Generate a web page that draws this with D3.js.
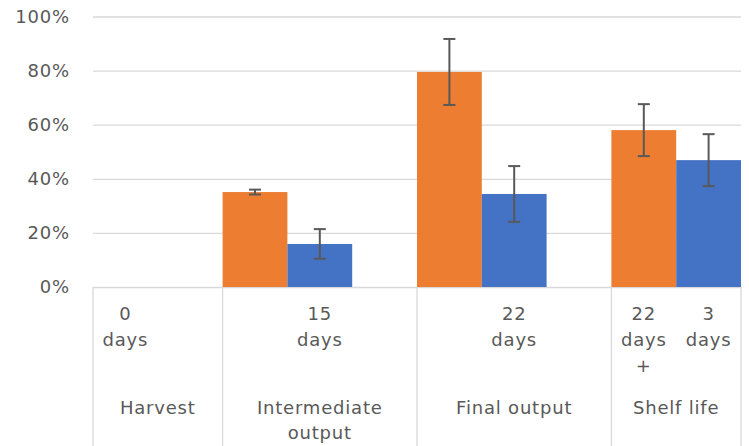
<!DOCTYPE html>
<style>
  html, body { margin:0; background:#fff; }
  text { font-family: "DejaVu Sans", sans-serif; fill:#595959; letter-spacing:0.8px; }
</style>
<svg width="749" height="446"></svg>
<script src="https://d3js.org/d3.v7.min.js"></script>
<script>

var groups = ["Harvest", "Intermediate output", "Final output", "Shelf life"],
    groupSlots = [2, 3, 3, 2],
    slotLabels = ["0 days", "", "", "15 days", "", "", "22 days", "", "22 days +", "3 days"],
    orangeValues = [null, 35.1, 79.5, 58.0],
    orangeErrors = [null, 0.9, 12.2, 9.6],
    blueValues = [null, 15.9, 34.4, 46.9],
    blueErrors = [null, 5.5, 10.3, 9.6],
    yTicks = [0, 20, 40, 60, 80, 100];

var svg = d3.select("svg"),
    plotLeft = 93, plotRight = 741, plotTop = 16.5, plotBottom = 287;

var x = d3.scaleBand().domain(d3.range(d3.sum(groupSlots))).range([plotLeft, plotRight]).padding(0),
    y = d3.scaleLinear().domain([0, 100]).range([plotBottom, plotTop]);

var starts = groupSlots.map(function(d, i) { return d3.sum(groupSlots.slice(0, i)); });

// grid + y labels
var yAxis = svg.append("g")
    .attr("transform", "translate(" + plotLeft + ",0)")
    .call(d3.axisLeft(y).tickValues(yTicks).tickSize(-(plotRight - plotLeft)).tickPadding(23)
      .tickFormat(function(d) { return d + "%"; }));
yAxis.select(".domain").remove();
yAxis.selectAll(".tick line").attr("stroke", "#d9d9d9").attr("stroke-width", 1.3);
yAxis.selectAll(".tick text").style("font-size", "18px").attr("fill", "#595959")
    .style("font-family", "DejaVu Sans, sans-serif");

// group separators
var seps = starts.map(function(s) { return x(s); }).concat([plotRight]);
svg.append("g").selectAll("line")
  .data(seps)
  .enter().append("line")
    .attr("x1", function(d) { return d; }).attr("x2", function(d) { return d; })
    .attr("y1", plotBottom).attr("y2", 446)
    .attr("stroke", "#d9d9d9").attr("stroke-width", 1.3);

// bars
var bars = [];
groups.forEach(function(g, i) {
  if (orangeValues[i] != null) bars.push({slot: starts[i], v: orangeValues[i], e: orangeErrors[i], c: "#ed7d31"});
  if (blueValues[i] != null) bars.push({slot: starts[i] + 1, v: blueValues[i], e: blueErrors[i], c: "#4472c4"});
});

svg.append("g").selectAll("rect")
  .data(bars)
  .enter().append("rect")
    .attr("x", function(d) { return x(d.slot); })
    .attr("width", x.bandwidth())
    .attr("y", function(d) { return y(d.v); })
    .attr("height", function(d) { return y(0) - y(d.v); })
    .attr("fill", function(d) { return d.c; });

// error bars
var err = svg.append("g").attr("stroke", "#595959").attr("stroke-width", 2)
  .selectAll("g").data(bars).enter().append("g")
    .attr("transform", function(d) { return "translate(" + (x(d.slot) + x.bandwidth() / 2) + ",0)"; });
err.append("line")
    .attr("y1", function(d) { return y(d.v + d.e); })
    .attr("y2", function(d) { return y(d.v - d.e); });
err.selectAll(".cap")
  .data(function(d) { return [d.v + d.e, d.v - d.e]; })
  .enter().append("line")
    .attr("x1", -6).attr("x2", 6)
    .attr("y1", function(d) { return y(d); })
    .attr("y2", function(d) { return y(d); });

function wrap(sel, width, lh) {
  sel.each(function(d) {
    var t = d3.select(this), words = t.text().split(/\s+/).reverse(), line = [],
        xx = t.attr("x"), tspan = t.text(null).append("tspan").attr("x", xx).attr("dy", 0), w;
    while ((w = words.pop())) {
      line.push(w);
      tspan.text(line.join(" "));
      if (tspan.node().getComputedTextLength() > width && line.length > 1) {
        line.pop();
        tspan.text(line.join(" "));
        line = [w];
        tspan = t.append("tspan").attr("x", xx).attr("dy", lh).text(w);
      }
    }
  });
}

// slot labels
svg.append("g").selectAll("text")
  .data(slotLabels.map(function(l, i) { return {l: l, i: i}; }).filter(function(d) { return d.l; }))
  .enter().append("text")
    .attr("x", function(d) { return x(d.i) + x.bandwidth() / 2; })
    .attr("y", 320)
    .attr("text-anchor", "middle")
    .style("font-size", "18px")
    .text(function(d) { return d.l; })
    .call(wrap, x.bandwidth() - 6, 26);

// group labels
svg.append("g").selectAll("text")
  .data(groups)
  .enter().append("text")
    .attr("x", function(d, i) { return (x(starts[i]) + (i < groups.length - 1 ? x(starts[i + 1]) : plotRight)) / 2; })
    .attr("y", 414)
    .attr("text-anchor", "middle")
    .style("font-size", "18px")
    .text(function(d) { return d; })
    .call(wrap, 150, 25);

</script>
